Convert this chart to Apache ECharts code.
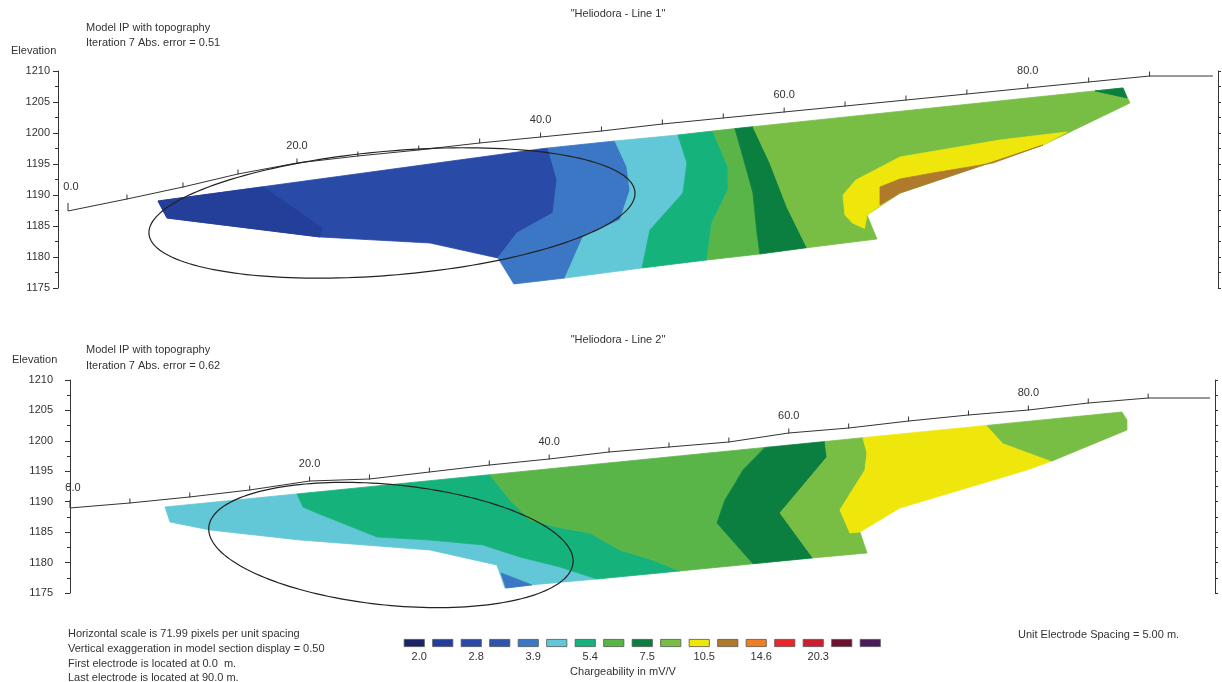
<!DOCTYPE html>
<html>
<head>
<meta charset="utf-8">
<script src="https://cdn.jsdelivr.net/npm/echarts@6/dist/echarts.min.js"></script>
<style>
  html, body { margin: 0; padding: 0; background: #fff; }
  #chart { width: 1222px; height: 682px; }
</style>
</head>
<body>
<div id="chart"></div>
<script>
// Chargeability classes (mV/V) and their colours
const palette = ['#1b2466','#243f9a','#2a4aa8','#2c55ab','#3b77c4','#62c7d6','#15b37b','#5ab548',
                 '#0b7f3f','#79be44','#efe70c','#b07a2c','#ef7d22','#e8262b','#cc1f2e','#6e1030','#4b1a5c'];
const legendLabels = ['2.0','','2.8','','3.9','','5.4','','7.5','','10.5','','14.6','','20.3','',''];
const legendValues = [1,1,1,1,1,1,1,1,1,1,1,1,1,1,1,1,1];

const elevTicks = [1175, 1210];   // elevation range of both sections (m)

// ---- Line 1: electrodes (distance label, horizontal position, elevation) ----
const l1Dist = [0,5,10,15,20,25,30,35,40,45,50,55,60,65,70,75,80,85,90];
const l1X    = [1.2,6.04,10.64,15.16,20,25,30,35,40,45,50,55,60,65,70,75,80,85,90];
const l1Elev = [1187.42,1189.35,1191.29,1193.39,1195.16,1196.29,1197.26,1198.39,1199.35,1200.32,
                1201.45,1202.42,1203.39,1204.35,1205.32,1206.29,1207.26,1208.23,1209.19];
const l1End  = [95.2, 1209.19];

// Line 1 model zones: [distance, elevation] vertices
const l1Blue3 = [[8.59,1189.03],[39.95,1197.42],[40.61,1197.58],[41.35,1192.42],[41.02,1187.10],[38.06,1183.87],
                 [36.50,1179.84],[30.92,1182.26],[21.89,1183.23],[9.33,1186.29]];
const l1Blue2 = [[8.59,1189.03],[17.21,1191.29],[22.05,1184.68],[21.89,1183.23],[9.33,1186.29]];
const l1Blue5 = [[40.61,1197.58],[46.11,1198.71],[47.09,1194.52],[47.34,1190.81],[46.52,1185.97],[43.48,1183.23],
                 [42.00,1176.61],[37.81,1175.65],[36.50,1179.84],[38.06,1183.87],[41.02,1187.10],[41.35,1192.42]];
const l1Cyan  = [[46.11,1198.71],[51.28,1199.68],[52.02,1195.16],[51.69,1190.32],[48.98,1184.35],[48.33,1178.23],
                 [42.00,1176.61],[43.48,1183.23],[46.52,1185.97],[47.34,1190.81],[47.09,1194.52]];
const l1Teal  = [[51.28,1199.68],[54.15,1200.32],[55.39,1194.52],[55.39,1190.81],[54.07,1185.48],[53.66,1179.52],
                 [48.33,1178.23],[48.98,1184.35],[51.69,1190.32],[52.02,1195.16]];
const l1Green = [[54.15,1200.32],[55.96,1200.71],[56.62,1196.13],[57.44,1190.32],[57.77,1183.87],[58.01,1180.48],
                 [53.66,1179.52],[54.07,1185.48],[55.39,1190.81],[55.39,1194.52]];
const l1DkGreen = [[55.96,1200.71],[57.44,1201.02],[58.83,1195.16],[60.23,1188.06],[61.87,1181.5],[58.01,1180.48],
                   [57.77,1183.87],[57.44,1190.32],[56.62,1196.13]];
const l1LtGreen = [[57.44,1201.02],[87.82,1207.26],[88.39,1204.84],[81.25,1198.06],[69.51,1190.32],[66.80,1186.77],
                   [67.62,1182.90],[61.87,1181.5],[60.23,1188.06],[58.83,1195.16]];
const l1DkGreenTip = [[85.52,1206.79],[87.82,1207.26],[88.15,1205.65]];
const l1Yellow = [[64.83,1190.0],[65.89,1192.42],[69.51,1196.13],[77.72,1198.87],[83.22,1200.16],[81.25,1198.06],
                  [69.51,1190.48],[66.80,1186.77],[66.60,1184.6],[65.60,1185.5],[64.99,1186.77]];
const l1Brown  = [[67.87,1191.29],[69.51,1192.58],[72.22,1193.55],[77.14,1195.16],[81.25,1198.06],[69.51,1190.32],
                  [67.87,1188.39]];

// ---- Line 2 ----
const l2Dist = [0,5,10,15,20,25,30,35,40,45,50,55,60,65,70,75,80,85,90];
const l2X    = [0,5,10,15,20,25,30,35,40,45,50,55,60,65,70,75,80,85,90];
const l2Elev = [1188.97,1189.79,1190.78,1191.93,1193.40,1193.73,1194.88,1196.03,1197.02,1198.17,
                1198.99,1199.81,1201.29,1202.11,1203.26,1204.25,1205.07,1206.22,1207.04];
const l2End  = [95.16, 1207.04];

const l2Cyan = [[7.93,1189.13],[18.95,1191.28],[19.45,1189.13],[20.62,1188.15],[25.63,1184.20],[30.05,1183.71],
                [34.47,1182.89],[37.56,1180.92],[40.90,1179.27],[43.99,1177.30],[38.40,1176.32],[36.31,1175.82],
                [35.64,1179.60],[30.05,1182.07],[19.20,1183.71],[11.69,1185.35],[8.35,1186.67]];
const l2Blue = [[35.98,1178.29],[38.56,1176.32],[36.39,1175.82]];
const l2Teal = [[18.95,1191.28],[35.06,1194.44],[36.73,1190.28],[38.40,1187.00],[40.65,1185.85],[43.41,1184.86],
                [45.91,1182.07],[48.66,1180.42],[50.92,1178.62],[43.99,1177.30],[40.90,1179.27],[37.56,1180.92],
                [34.47,1182.89],[30.05,1183.71],[25.63,1184.20],[20.62,1188.15],[19.45,1189.13]];
const l2Green = [[35.06,1194.44],[58.01,1198.92],[56.18,1195.21],[55.34,1192.42],[54.67,1190.28],[54.01,1186.50],
                 [57.01,1179.80],[50.92,1178.62],[48.66,1180.42],[45.91,1182.07],[43.41,1184.86],[40.65,1185.85],
                 [38.40,1187.00],[36.73,1190.28]];
const l2DkGreen = [[58.01,1198.92],[63.02,1199.89],[63.19,1197.35],[59.27,1188.15],[62.02,1180.77],[57.01,1179.80],
                   [54.01,1186.50],[54.67,1190.28],[55.34,1192.42],[56.18,1195.21]];
const l2LtGreenA = [[63.02,1199.89],[66.19,1200.52],[66.53,1198.01],[66.36,1195.21],[64.27,1188.64],[65.11,1184.86],
                    [65.94,1185.02],[66.53,1181.57],[62.02,1180.77],[59.27,1188.15],[63.19,1197.35]];
const l2Yellow = [[66.19,1200.52],[76.54,1202.54],[77.88,1199.65],[81.97,1196.69],[79.88,1195.21],[69.28,1188.97],
                  [65.94,1185.02],[65.11,1184.86],[64.27,1188.64],[66.36,1195.21],[66.53,1198.01]];
const l2LtGreenB = [[76.54,1202.54],[87.81,1204.74],[88.23,1203.43],[88.23,1201.78],[81.97,1196.69],[77.88,1199.65]];

// Outlined target zones: centre, end of long axis, end of short axis (distance, elevation)
const l1Ellipse = [27.80, 1187.10, 47.75, 1190.48, 27.36, 1197.06];
const l2Ellipse = [26.79, 1182.89, 41.99, 1179.93, 27.30, 1192.75];

// zone polygons in drawing order, with palette index
const line1Zones = [[l1Blue3,2],[l1Blue2,1],[l1Blue5,4],[l1Cyan,5],[l1Teal,6],[l1Green,7],[l1DkGreen,8],
                    [l1LtGreen,9],[l1DkGreenTip,8],[l1Yellow,10],[l1Brown,11]];
const line2Zones = [[l2Cyan,5],[l2Blue,4],[l2Teal,6],[l2Green,7],[l2DkGreen,8],[l2LtGreenA,9],[l2Yellow,10],[l2LtGreenB,9]];

const FONT = "'Liberation Sans', Arial, sans-serif";
const TXT = '#333';

function zoneSeries(zones, ai) {
  return {
    type: 'custom', xAxisIndex: ai, yAxisIndex: ai * 2, silent: true, z: 2,
    data: zones.map(z => z[0][0]),
    renderItem: (params, api) => {
      const z = zones[params.dataIndex];
      const col = palette[z[1]];
      return {
        type: 'polygon',
        shape: { points: z[0].map(p => api.coord(p)) },
        style: { fill: col, stroke: col, lineWidth: 0.8 }
      };
    }
  };
}

function ellipseSeries(e, ai) {
  return {
    type: 'custom', xAxisIndex: ai, yAxisIndex: ai * 2, silent: true, z: 5,
    data: [e],
    encode: { x: 0, y: 1 },
    renderItem: (params, api) => {
      const [cx, cy, rx, ry, tx, ty] = e;
      const pts = [];
      for (let k = 0; k <= 180; k++) {
        const t = k / 180 * Math.PI * 2;
        const x = cx + (rx - cx) * Math.cos(t) + (tx - cx) * Math.sin(t);
        const y = cy + (ry - cy) * Math.cos(t) + (ty - cy) * Math.sin(t);
        pts.push(api.coord([x, y]));
      }
      return { type: 'polygon', shape: { points: pts },
               style: { fill: 'none', stroke: '#222', lineWidth: 1.2 } };
    }
  };
}

function topoSeries(xs, elev, dist, end, ai, firstLabelGap) {
  const data = xs.map((x, i) => [x, elev[i], dist[i]]);
  data[0] = { value: data[0], symbolSize: [1, 8], symbolOffset: [0, -4],
              label: { distance: firstLabelGap, offset: [3, 0] } };
  data.push({ value: [end[0], end[1], -1], symbol: 'none' });
  return {
    type: 'line', xAxisIndex: ai, yAxisIndex: ai * 2, z: 4, silent: true,
    data: data, showAllSymbol: true,
    symbol: 'rect', symbolSize: [1, 5], symbolOffset: [0, -2],
    itemStyle: { color: '#333' },
    lineStyle: { color: '#333', width: 1 },
    label: {
      show: true, position: 'top', distance: 7,
      fontFamily: FONT, fontSize: 11, color: TXT,
      formatter: p => (p.value[2] >= 0 && p.value[2] % 20 === 0) ? p.value[2].toFixed(1) : ''
    }
  };
}

function leftAxis(gi) {
  return {
    type: 'value', gridIndex: gi, position: 'left', min: elevTicks[0], max: elevTicks[1], interval: 5,
    axisLine: { show: true, lineStyle: { color: '#333' } },
    axisTick: { show: true, length: 5, lineStyle: { color: '#333' } },
    minorTick: { show: true, splitNumber: 2, length: 3, lineStyle: { color: '#333' } },
    splitLine: { show: false },
    axisLabel: { fontFamily: FONT, fontSize: 11, color: TXT, margin: 8, formatter: v => String(v) }
  };
}
function rightAxis(gi) {
  return {
    type: 'value', gridIndex: gi, position: 'right', min: elevTicks[0], max: elevTicks[1], interval: 2.5,
    axisLine: { show: true, lineStyle: { color: '#333' } },
    axisTick: { show: true, inside: false, length: 3, lineStyle: { color: '#333' } },
    splitLine: { show: false },
    axisLabel: { show: false }
  };
}

function text(str, x, y, align) {
  return { type: 'text', x: x, y: y, silent: true,
    style: { text: str, fontFamily: FONT, fontSize: 11, fill: TXT,
             align: align || 'left', verticalAlign: 'middle' } };
}

const chart = echarts.init(document.getElementById('chart'), null, { renderer: 'canvas' });
chart.setOption({
  animation: false,
  backgroundColor: '#fff',
  grid: [
    { left: 58, top: 71, width: 1160, height: 217, outerBoundsMode: 'none' },
    { left: 61, top: 380, width: 1154, height: 213, outerBoundsMode: 'none' },
    { left: 400, top: 639, width: 484.5, height: 8, outerBoundsMode: 'none' }
  ],
  xAxis: [
    { type: 'value', gridIndex: 0, min: 0.38, max: 95.62, show: false },
    { type: 'value', gridIndex: 1, min: -0.75, max: 95.58, show: false },
    { type: 'category', gridIndex: 2, data: legendLabels,
      axisLine: { show: false }, axisTick: { show: false },
      axisLabel: { interval: 0, margin: 4, fontFamily: FONT, fontSize: 11, color: TXT, padding: [0, 0, 0, 10] } }
  ],
  yAxis: [
    leftAxis(0), rightAxis(0), leftAxis(1), rightAxis(1),
    { type: 'value', gridIndex: 2, min: 0, max: 1, show: false }
  ],
  series: [
    zoneSeries(line1Zones, 0),
    topoSeries(l1X, l1Elev, l1Dist, l1End, 0, 11),
    ellipseSeries(l1Ellipse, 0),
    zoneSeries(line2Zones, 1),
    topoSeries(l2X, l2Elev, l2Dist, l2End, 1, 7),
    ellipseSeries(l2Ellipse, 1),
    { type: 'bar', xAxisIndex: 2, yAxisIndex: 4, barWidth: 21, silent: true,
      data: legendValues.map((v, i) => ({ value: v, itemStyle: { color: palette[i] } })),
      itemStyle: { borderColor: '#555', borderWidth: 0.8 } }
  ],
  graphic: [
    text('"Heliodora - Line 1"', 618, 14, 'center'),
    text('Model IP with topography', 86, 28),
    text('Iteration 7 Abs. error = 0.51', 86, 43),
    text('Elevation', 11, 51),
    text('"Heliodora - Line 2"', 618, 340, 'center'),
    text('Model IP with topography', 86, 350),
    text('Iteration 7 Abs. error = 0.62', 86, 366),
    text('Elevation', 12, 360),
    text('Horizontal scale is 71.99 pixels per unit spacing', 68, 634),
    text('Vertical exaggeration in model section display = 0.50', 68, 649),
    text('First electrode is located at 0.0  m.', 68, 664),
    text('Last electrode is located at 90.0 m.', 68, 678),
    text('Chargeability in mV/V', 623, 672, 'center'),
    text('Unit Electrode Spacing = 5.00 m.', 1018, 635)
  ]
});
</script>
</body>
</html>
